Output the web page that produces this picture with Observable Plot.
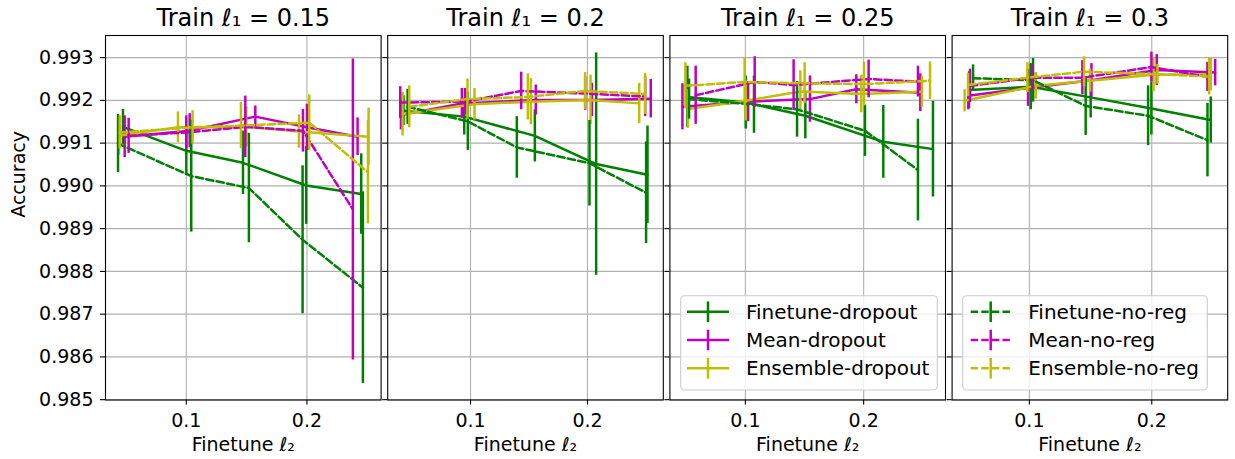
<!DOCTYPE html>
<html><head><meta charset="utf-8">
<script src="https://cdn.jsdelivr.net/npm/d3@7"></script>
<script src="https://cdn.jsdelivr.net/npm/@observablehq/plot@0.6"></script>
<style>
body{margin:0;background:#fff;}
#chart{position:relative;width:1235px;height:459px;background:#fff;}
#chart svg{position:absolute;left:0;top:0;overflow:visible;}
</style></head><body><div id="chart"></div>
<script>
// ---- data (one row of 5 points per panel: Train l1 = 0.15, 0.2, 0.25, 0.3) ----
const trainL1 = ["0.15", "0.2", "0.25", "0.3"];
const seriesNames = ["Finetune-dropout", "Mean-dropout", "Ensemble-dropout", "Finetune-no-reg", "Mean-no-reg", "Ensemble-no-reg"];
const xTicks = [0.1, 0.2];
const yTicks = [0.985, 0.986, 0.987, 0.988, 0.989, 0.990, 0.991, 0.992, 0.993];

const finetuneDropoutX = [[0.0475,0.1,0.147,0.1994,0.245],[0.0427,0.0946,0.155,0.2074,0.2513],[0.051,0.1003,0.1507,0.2166,0.2586],[0.0507,0.1011,0.1501,0.1997,0.2482]];
const finetuneDropoutY = [[0.99138,0.99082,0.99054,0.99001,0.98981],[0.99176,0.99162,0.99117,0.99051,0.99026],[0.99208,0.99195,0.99164,0.99103,0.99086],[0.99224,0.99232,0.99207,0.99181,0.99154]];
const finetuneDropoutE = [[0.00041,0.00056,0.00074,0.00091,0.00094],[0.00035,0.00043,0.00061,0.0026,0.00114],[0.00072,0.00062,0.00054,0.00085,0.00112],[0.00043,0.00054,0.00048,0.00062,0.00054]];

const meanDropoutX = [[0.0489,0.1028,0.1572,0.2,0.242],[0.0405,0.0926,0.1558,0.2037,0.2541],[0.0468,0.1023,0.1546,0.1938,0.2479],[0.0501,0.0989,0.1507,0.2041,0.2518]];
const meanDropoutY = [[0.99115,0.99129,0.99162,0.99137,0.99115],[0.99166,0.99193,0.99201,0.99201,0.99204],[0.99185,0.99197,0.99203,0.99226,0.99218],[0.99211,0.99229,0.99247,0.99271,0.99265]];
const meanDropoutE = [[0.00049,0.0004,0.00025,0.00054,0.00044],[0.00035,0.00035,0.00035,0.00039,0.00045],[0.00054,0.00047,0.00054,0.00034,0.00044],[0.00033,0.00043,0.00039,0.00036,0.00031]];

const ensembleDropoutX = [[0.0439,0.0931,0.1497,0.1934,0.2511],[0.0419,0.1034,0.1516,0.2026,0.2442],[0.0515,0.1003,0.1465,0.198,0.2493],[0.0471,0.1052,0.1496,0.2014,0.2482]];
const ensembleDropoutY = [[0.99117,0.99137,0.99138,0.99127,0.99115],[0.99168,0.99191,0.99197,0.99201,0.99193],[0.9918,0.99199,0.99221,0.99215,0.9922],[0.99199,0.99234,0.99246,0.9926,0.99261]];
const ensembleDropoutE = [[0.00045,0.00036,0.00047,0.00039,0.00067],[0.00051,0.00037,0.00054,0.00058,0.00047],[0.00045,0.00047,0.00048,0.00044,0.00036],[0.00026,0.00031,0.00027,0.0004,0.00039]];

const finetuneNoRegX = [[0.0434,0.1041,0.1519,0.1964,0.2464],[0.0462,0.0977,0.1396,0.2017,0.2501],[0.0524,0.1073,0.1437,0.2011,0.2459],[0.054,0.103,0.146,0.197,0.2455]];
const finetuneNoRegY = [[0.99099,0.99023,0.98995,0.98874,0.98762],[0.99185,0.99151,0.9909,0.99053,0.98984],[0.99203,0.9919,0.99179,0.99129,0.99037],[0.99252,0.99247,0.99187,0.99164,0.99107]];
const finetuneNoRegE = [[0.00068,0.00131,0.00128,0.00173,0.00224],[0.00041,0.00068,0.00072,0.001,0.00119],[0.00047,0.00067,0.00065,0.0006,0.00119],[0.00031,0.00051,0.00069,0.0007,0.00086]];

const meanNoRegX = [[0.0522,0.1,0.1489,0.1967,0.2381],[0.0399,0.0954,0.1433,0.198,0.2493],[0.058,0.1079,0.1408,0.2042,0.2459],[0.0515,0.1025,0.1433,0.1997,0.2455]];
const meanNoRegY = [[0.99117,0.99125,0.99138,0.99129,0.98945],[0.99195,0.99197,0.99222,0.99216,0.99209],[0.99212,0.99243,0.99236,0.9925,0.99244],[0.99234,0.99253,0.99253,0.99278,0.99255]];
const meanNoRegE = [[0.00041,0.00039,0.00072,0.0005,0.00352],[0.00037,0.00031,0.00044,0.00039,0.00047],[0.00068,0.00059,0.00059,0.00044,0.00036],[0.00039,0.00031,0.0004,0.00035,0.00034]];

const ensembleNoRegX = [[0.0448,0.1052,0.1453,0.2019,0.2506],[0.0476,0.0974,0.149,0.198,0.2493],[0.0493,0.0994,0.1501,0.2003,0.2561],[0.0499,0.0984,0.1447,0.2046,0.2469]];
const ensembleNoRegY = [[0.99125,0.99137,0.99141,0.99148,0.99032],[0.99185,0.99203,0.99208,0.99222,0.99215],[0.99234,0.99243,0.9924,0.99238,0.99246],[0.99236,0.99253,0.99267,0.99261,0.99256]];
const ensembleNoRegE = [[0.00039,0.00039,0.00054,0.00065,0.00121],[0.00049,0.00047,0.00054,0.00043,0.00048],[0.00054,0.00056,0.00048,0.00051,0.00044],[0.00027,0.00035,0.00035,0.00023,0.00043]];

// ---- styles ----
const GREEN = "#008000", MAG = "#bf00bf", OLIVE = "#bfbf00";
const series = [
  {name: seriesNames[0], X: finetuneDropoutX, Y: finetuneDropoutY, E: finetuneDropoutE, color: GREEN, dash: false},
  {name: seriesNames[1], X: meanDropoutX, Y: meanDropoutY, E: meanDropoutE, color: MAG, dash: false},
  {name: seriesNames[2], X: ensembleDropoutX, Y: ensembleDropoutY, E: ensembleDropoutE, color: OLIVE, dash: false},
  {name: seriesNames[3], X: finetuneNoRegX, Y: finetuneNoRegY, E: finetuneNoRegE, color: GREEN, dash: true},
  {name: seriesNames[4], X: meanNoRegX, Y: meanNoRegY, E: meanNoRegE, color: MAG, dash: true},
  {name: seriesNames[5], X: ensembleNoRegX, Y: ensembleNoRegY, E: ensembleNoRegE, color: OLIVE, dash: true}
];
const DASH = "7.4,3.2";
const LW = 2.5;

const rows = [];
trainL1.forEach((t, p) => series.forEach(s => s.X[p].forEach((x, i) => rows.push({panel: p, series: s.name, x, y: s.Y[p][i], e: s.E[p][i]}))));

const W = 1235, H = 459, mTop = 35, mBottom = 59.5, left0 = 105, step = 282.2, pw = 275.6;
const yLo = d3.min(rows, d => d.y - d.e), yHi = d3.max(rows, d => d.y + d.e);
const yPad = (yHi - yLo) * 0.05;
const yDomain = [yLo - yPad, yHi + yPad];
const FONT = "DejaVu Sans";
const chart = document.getElementById("chart");
const svgs = [];

trainL1.forEach((t, p) => {
  const pr = rows.filter(d => d.panel === p);
  const [xa, xb] = d3.extent(pr, d => d.x);
  const xp = (xb - xa) * 0.05;
  const left = left0 + p * step;
  const marks = [
    Plot.gridY({ticks: yTicks, stroke: "#b0b0b0", strokeOpacity: 1, strokeWidth: 1.1}),
    Plot.gridX({ticks: xTicks, stroke: "#b0b0b0", strokeOpacity: 1, strokeWidth: 1.1})
  ];
  series.forEach(s => {
    const d = pr.filter(r => r.series === s.name);
    marks.push(Plot.line(d, {x: "x", y: "y", stroke: s.color, strokeWidth: LW, strokeDasharray: s.dash ? DASH : null, strokeLinejoin: "round"}));
    marks.push(Plot.ruleX(d, {x: "x", y1: r => r.y - r.e, y2: r => r.y + r.e, stroke: s.color, strokeWidth: LW}));
  });
  marks.push(Plot.frame({stroke: "black", strokeWidth: 1.1}));
  marks.push(Plot.axisX({ticks: xTicks, tickFormat: d => d.toFixed(1), tickSize: 5, tickPadding: 8, fontSize: 19, label: null, strokeWidth: 1.1}));
  marks.push(Plot.axisY({ticks: yTicks, tickFormat: p === 0 ? d3.format(".3f") : () => "", tickSize: 5, tickPadding: 7, fontSize: 19, label: null, strokeWidth: 1.1}));
  marks.push(Plot.text([`Train ℓ₁ = ${t}`], {frameAnchor: "top", lineAnchor: "middle", dy: -17, fontSize: 24, fill: "black"}));
  marks.push(Plot.text(["Finetune ℓ₂"], {frameAnchor: "bottom", lineAnchor: "middle", dy: 45, fontSize: 19, fill: "black"}));
  if (p === 0) marks.push(Plot.text(["Accuracy"], {frameAnchor: "left", lineAnchor: "middle", dx: -87, rotate: -90, fontSize: 19, fill: "black"}));
  const svg = Plot.plot({
    width: W, height: H,
    marginLeft: left, marginRight: W - left - pw, marginTop: mTop, marginBottom: mBottom,
    x: {domain: [xa - xp, xb + xp], axis: null},
    y: {domain: yDomain, axis: null},
    style: {fontFamily: FONT, fontSize: "19px", color: "black", background: "transparent"},
    marks
  });
  chart.appendChild(svg);
  svgs.push(svg);
});

function addLegend(svg, items, box, hx0, hx1, tx) {
  const g = d3.select(svg).append("g").attr("font-family", FONT).attr("font-size", 20).attr("text-anchor", "start");
  g.append("rect").attr("x", box[0]).attr("y", box[1]).attr("width", box[2] - box[0]).attr("height", box[3] - box[1])
    .attr("rx", 4).attr("fill", "white").attr("fill-opacity", 0.8).attr("stroke", "#cccccc").attr("stroke-width", 1.1);
  items.forEach((s, i) => {
    const cy = 311.7 + i * 28.3;
    g.append("line").attr("x1", hx0).attr("x2", hx1).attr("y1", cy).attr("y2", cy)
      .attr("stroke", s.color).attr("stroke-width", LW).attr("stroke-dasharray", s.dash ? DASH : null);
    const cx = (hx0 + hx1) / 2;
    g.append("line").attr("x1", cx).attr("x2", cx).attr("y1", cy - 10.3).attr("y2", cy + 10.3)
      .attr("stroke", s.color).attr("stroke-width", LW);
    g.append("text").attr("x", tx).attr("y", cy + 7).attr("fill", "black").attr("text-anchor", "start").text(s.name);
  });
}
addLegend(svgs[2], series.slice(0, 3), [680.7, 295.7, 937.3, 390], 687, 729, 746);
addLegend(svgs[3], series.slice(3, 6), [962.7, 295.7, 1207.3, 390], 970.7, 1010.7, 1028.3);
</script></body></html>
